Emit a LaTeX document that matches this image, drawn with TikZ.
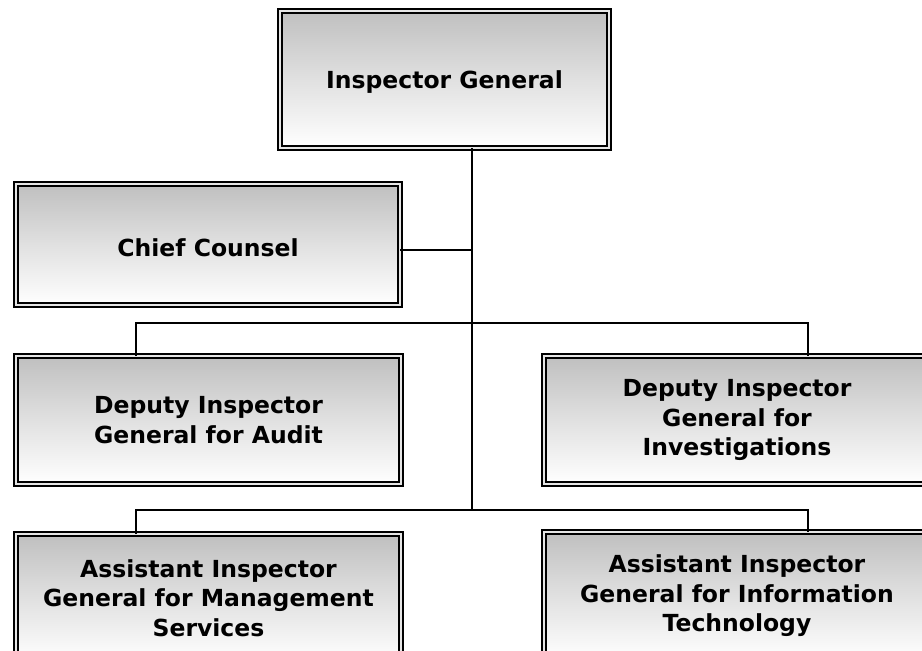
\documentclass[tikz,border=0pt]{standalone}
\usepackage{fontspec}
\setmainfont{DejaVu Sans}
\newcommand{\lowertext}[1]{\raisebox{-3pt}[\height][\depth]{#1}}
\begin{document}
\begin{tikzpicture}[x=1pt,y=-1pt,
  orgbox/.style={draw=black, line width=2.2pt, double=gray!20, double distance=2pt,
    top color=gray!50, bottom color=white, middle color=gray!24,
    inner sep=0pt, outer sep=0pt, align=center,
    font=\fontsize{23.5}{29.5}\selectfont\bfseries},
  link/.style={draw=black, line width=1.6pt}]
\useasboundingbox (0,0) rectangle (922,651);
\begin{scope}
\clip (0,0) rectangle (922,651);
\node[orgbox, minimum width=329pt, minimum height=137pt] (ig) at (444.5,79.5) {\lowertext{Inspector General}};
\node[orgbox, minimum width=384pt, minimum height=121pt] (cc) at (208,244.5) {\lowertext{Chief Counsel}};
\node[orgbox, minimum width=385pt, minimum height=128pt] (da) at (208.5,420) {Deputy Inspector\\General for Audit};
\node[orgbox, minimum width=386pt, minimum height=128pt] (di) at (737,420) {Deputy Inspector\\General for\\Investigations};
\node[orgbox, minimum width=385pt, minimum height=128pt] (am) at (208.5,598) {Assistant Inspector\\General for Management\\Services};
\node[orgbox, minimum width=386pt, minimum height=128pt] (ai) at (737,596) {Assistant Inspector\\General for Information\\Technology};
\end{scope}
\coordinate (cj) at (472,250);
\coordinate (j1) at (472,323);
\coordinate (j2) at (472,510);
\coordinate (l1) at (136,323);
\coordinate (r1) at (808,323);
\coordinate (l2) at (136,510);
\coordinate (r2) at (808,510);
\draw[link] (ig.south -| j2) -- (j2);
\draw[link] (cc.east |- cj) -- (cj);
\draw[link] (da.north -| l1) -- (l1) -- (r1) -- (di.north -| r1);
\draw[link] (am.north -| l2) -- (l2) -- (r2) -- (ai.north -| r2);
\end{tikzpicture}
\end{document}
